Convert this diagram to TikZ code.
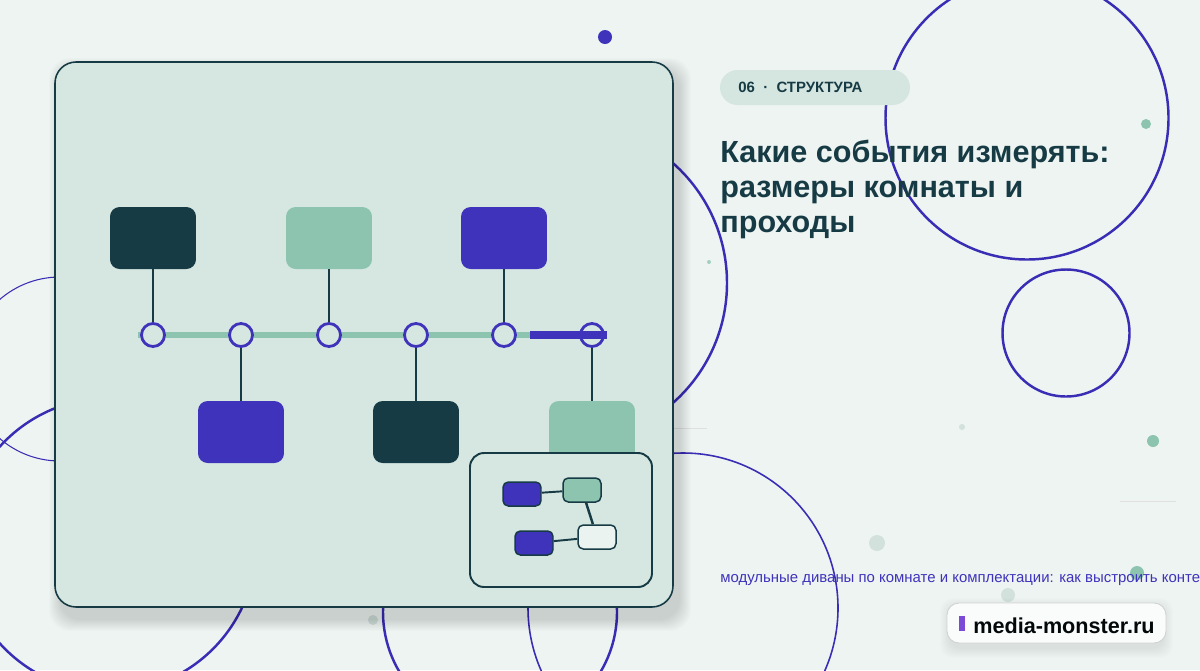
\documentclass[tikz,border=0pt]{standalone}
\usepackage{fontspec}
\setmainfont{Liberation Sans}
\usetikzlibrary{positioning}
\definecolor{bgc}{HTML}{EEF4F1}
\definecolor{cardc}{HTML}{D6E7E2}
\definecolor{inkc}{HTML}{163B45}
\definecolor{mintc}{HTML}{8CC4B0}
\definecolor{violc}{HTML}{3F33BB}
\definecolor{ringc}{HTML}{3A2DB5}
\definecolor{pillc}{HTML}{D5E5E0}
\definecolor{dotc}{HTML}{D2E1DC}
\definecolor{markc}{HTML}{7B4BD8}
\tikzset{
  ring/.style={draw=ringc,line width=1.4pt},
  thinring/.style={draw=ringc,line width=0.6pt},
  evbox/.style={rounded corners=5.5pt,minimum width=1.72cm,minimum height=1.24cm,inner sep=0pt},
  tick/.style={circle,draw=violc,fill=cardc,line width=1.6pt,minimum size=0.46cm,inner sep=0pt},
  stem/.style={draw=inkc,line width=1.3pt},
  mini/.style={rounded corners=3pt,draw=inkc,line width=0.85pt,minimum width=0.76cm,minimum height=0.48cm,inner sep=0pt},
}
\begin{document}
\begin{tikzpicture}[x=0.02cm,y=-0.02cm]
\clip (0,0) rectangle (1200,670);
\fill[bgc] (0,0) rectangle (1200,670);
% background rings and dots
\draw[ring] (1027,118) circle(141.5);\draw[ring] (1066,333) circle(63.5);
\draw[ring] (567,283) circle(160);\draw[ring] (109,545) circle(147);
\draw[thinring] (60,369) circle(92);\draw[ring] (500,612) circle(117);
\draw[draw=ringc,line width=0.9pt] (683,608) circle(155);
\fill[violc] (605,37) circle(7);\fill[mintc] (1146,124) circle(5);
\fill[mintc!80] (709,262) circle(2);\fill[dotc] (962,427) circle(3);
\fill[mintc] (1153,441) circle(6);\fill[dotc] (877,543) circle(8);
\fill[mintc] (1137,573) circle(7);\fill[dotc] (1008,595) circle(7);
\fill[dotc] (373,620) circle(5);
\draw[black!12,line width=0.4pt] (673,428)--(707,428);\draw[black!12,line width=0.4pt] (1120,501)--(1176,501);
% card with soft shadow
\foreach \s in {1,...,12} \fill[black,opacity=0.011,rounded corners=12pt] (61-\s,70-\s) rectangle (679+\s,619+\s);
\draw[fill=cardc,draw=inkc,line width=0.9pt,rounded corners=12pt] (55,62) rectangle (673,607);
% timeline
\coordinate (barL) at (138,335);\coordinate (barM) at (530,335);\coordinate (barR) at (607,335);
\draw[mintc,line width=3.8pt] (barL)--(barM);
\foreach \n/\x in {1/153,2/241,3/329,4/416,5/504,6/592} \node[tick] (t\n) at (\x,335) {};
\draw[violc,line width=4.4pt] (barM)--(barR);
\node[evbox,fill=inkc] (up1) at (153,238) {};
\node[evbox,fill=mintc] (up2) at (329,238) {};
\node[evbox,fill=violc] (up3) at (504,238) {};
\node[evbox,fill=violc] (dn1) at (241,432) {};
\node[evbox,fill=inkc] (dn2) at (416,432) {};
\node[evbox,fill=mintc] (dn3) at (592,432) {};
\draw[stem] (up1)--(t1);\draw[stem] (up2)--(t3);\draw[stem] (up3)--(t5);
\draw[stem] (t2)--(dn1);\draw[stem] (t4)--(dn2);\draw[stem] (t6)--(dn3);
% inset map
\draw[fill=cardc,draw=inkc,line width=1.1pt,rounded corners=8pt] (470,453) rectangle (652,587);
\node[mini,fill=violc] (m1) at (522,494) {};
\node[mini,fill=mintc] (m2) at (582,490) {};
\node[mini,fill=violc] (m3) at (534,543) {};
\node[mini,fill=cardc!50] (m4) at (597,537) {};
\draw[stem,line width=1.1pt] (m1)--(m2);\draw[stem,line width=1.4pt] (m2)--(m4);\draw[stem,line width=1.1pt] (m3)--(m4);
% texts
\fill[pillc,rounded corners=9.9pt] (720,70) rectangle (910,105);
\node[anchor=base west,inner sep=0pt,text=inkc,font=\bfseries\fontsize{8.5}{10}\selectfont] (tag) at (738,92) {06 \;·\; СТРУКТУРА};
\node[anchor=base west,inner sep=0pt,text=inkc,font=\bfseries\fontsize{17.4}{20}\selectfont] (title1) at (720,162) {Какие события измерять:};
\node[anchor=base west,inner sep=0pt,text=inkc,font=\bfseries\fontsize{17.4}{20}\selectfont] (title2) at (720,197) {размеры комнаты и};
\node[anchor=base west,inner sep=0pt,text=inkc,font=\bfseries\fontsize{17.4}{20}\selectfont] (title3) at (720,232) {проходы};
\node[anchor=base west,inner sep=0pt,text=violc,font=\fontsize{8.5}{10}\selectfont] (link) at (720,582) {модульные диваны по комнате и комплектации: как выстроить конте};
% site badge
\foreach \s in {1,...,10} \fill[black,opacity=0.007,rounded corners=7pt] (950-\s,608-\s) rectangle (1163+\s,648+\s);
\draw[fill=white!70!bgc,draw=black!18,line width=0.5pt,rounded corners=6.8pt] (947,603) rectangle (1166,643);
\fill[markc] (959,616) rectangle (965,631);
\node[anchor=base west,inner sep=0pt,text=black!85!inkc,font=\bfseries\fontsize{12.3}{14}\selectfont] (site) at (973,633) {media-monster.ru};
\end{tikzpicture}
\end{document}
